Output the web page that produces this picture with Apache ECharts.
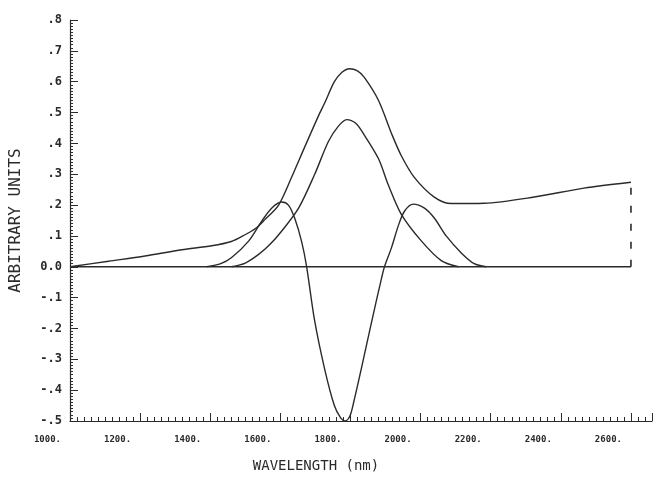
<!DOCTYPE html>
<html><head><meta charset="utf-8">
<script src="https://cdn.jsdelivr.net/npm/echarts@6/dist/echarts.min.js"></script>
<style>html,body{margin:0;padding:0;background:#fff}#c{width:654px;height:480px}</style>
</head><body><div id="c"></div>
<script>
// Wavelength (nm) / arbitrary units
const xTickValues = [1000, 1200, 1400, 1600, 1800, 2000, 2200, 2400, 2600];
const yTickValues = [0.8, 0.7, 0.6, 0.5, 0.4, 0.3, 0.2, 0.1, 0, -0.1, -0.2, -0.3, -0.4, -0.5];

const baselineX = [1000, 2600];
const baselineY = [0, 0];

const totalX = [1000, 1110, 1214, 1319, 1404, 1460, 1498, 1530, 1555, 1595, 1632, 1669, 1709, 1726, 1754, 1775, 1797, 1820, 1840, 1880, 1917, 1945, 1982, 2039, 2088, 2181, 2324, 2466, 2600];
const totalY = [0, 0.018, 0.035, 0.055, 0.068, 0.082, 0.103, 0.125, 0.152, 0.2, 0.29, 0.387, 0.49, 0.53, 0.6, 0.63, 0.642, 0.635, 0.613, 0.539, 0.432, 0.36, 0.29, 0.226, 0.205, 0.206, 0.226, 0.255, 0.274];

const centerX = [1461, 1500, 1538, 1570, 1604, 1652, 1698, 1737, 1765, 1789, 1815, 1840, 1880, 1908, 1945, 2002, 2059, 2108];
const centerY = [0, 0.012, 0.04, 0.072, 0.116, 0.19, 0.3, 0.406, 0.455, 0.477, 0.465, 0.426, 0.35, 0.265, 0.17, 0.084, 0.02, 0];

const derivX = [1390, 1430, 1461, 1510, 1547, 1575, 1604, 1623, 1641, 1661, 1675, 1697, 1726, 1754, 1772, 1785, 1798, 1809, 1831, 1860, 1888, 1897, 1917, 1937, 1954, 1979, 2011, 2039, 2073, 2116, 2153, 2187];
const derivY = [0, 0.01, 0.03, 0.084, 0.148, 0.19, 0.21, 0.2, 0.157, 0.08, 0, -0.17, -0.33, -0.45, -0.49, -0.5, -0.485, -0.44, -0.33, -0.18, -0.04, 0, 0.062, 0.135, 0.18, 0.203, 0.19, 0.158, 0.1, 0.045, 0.01, 0];

const markerX = [2600, 2600];
const markerY = [0, 0.274];

const zip = (xs, ys) => xs.map((x, i) => [x, ys[i]]);
const ink = '#2a2a2a';
const font = '"DejaVu Sans Mono", "Liberation Mono", monospace';

const chart = echarts.init(document.getElementById('c'), null, {renderer: 'canvas'});
const lineSeries = (data, extra) => Object.assign({
  type: 'line', data: data, showSymbol: false, symbol: 'none', smooth: 0.3,
  lineStyle: {color: ink, width: 1.4}, animation: false, z: 3
}, extra || {});

chart.setOption({
  backgroundColor: '#ffffff',
  animation: false,
  grid: {left: 68, right: 2, top: 20, bottom: 59, containLabel: false},
  xAxis: {
    type: 'value', min: 1000, max: 2660, interval: 200,
    name: 'WAVELENGTH (nm)', nameLocation: 'middle', nameGap: 38,
    nameTextStyle: {fontFamily: font, fontSize: 14, color: ink, padding: [0, 90, 0, 0]},
    axisLine: {onZero: false, lineStyle: {color: ink, width: 1.2}},
    axisTick: {inside: true, length: 8, lineStyle: {color: ink}},
    minorTick: {show: true, splitNumber: 10, length: 4, lineStyle: {color: ink}},
    splitLine: {show: false},
    axisLabel: {
      fontFamily: font, fontSize: 9, fontWeight: 'bold', color: ink, align: 'right', margin: 14,
      padding: [0, 9, 0, 0], showMaxLabel: false,
      formatter: v => (xTickValues.indexOf(Math.round(v)) >= 0 ? Math.round(v) + '.' : '')
    }
  },
  yAxis: {
    type: 'value', min: -0.5, max: 0.8, interval: 0.1,
    name: 'ARBITRARY UNITS', nameLocation: 'middle', nameGap: 46, nameRotate: 90,
    nameTextStyle: {fontFamily: font, fontSize: 16, color: ink},
    axisLine: {onZero: false, lineStyle: {color: ink, width: 1.2}},
    axisTick: {inside: true, length: 8, lineStyle: {color: ink}},
    minorTick: {show: true, splitNumber: 10, length: 3, lineStyle: {color: ink}},
    splitLine: {show: false},
    axisLabel: {
      fontFamily: font, fontSize: 12, fontWeight: 'bold', color: ink, margin: 8,
      formatter: v => {
        const k = Math.round(v * 10);
        if (k === 0) return '0.0';
        const t = yTickValues.find(y => Math.round(y * 10) === k);
        if (t === undefined) return '';
        return (k < 0 ? '-' : '') + '.' + Math.abs(k);
      }
    }
  },
  series: [
    lineSeries(zip(baselineX, baselineY), {smooth: false}),
    lineSeries(zip(totalX, totalY)),
    lineSeries(zip(centerX, centerY)),
    lineSeries(zip(derivX, derivY)),
    lineSeries(zip(markerX, markerY), {smooth: false, lineStyle: {color: ink, width: 1.6, type: [7, 11]}})
  ]
});
</script>
</body></html>
